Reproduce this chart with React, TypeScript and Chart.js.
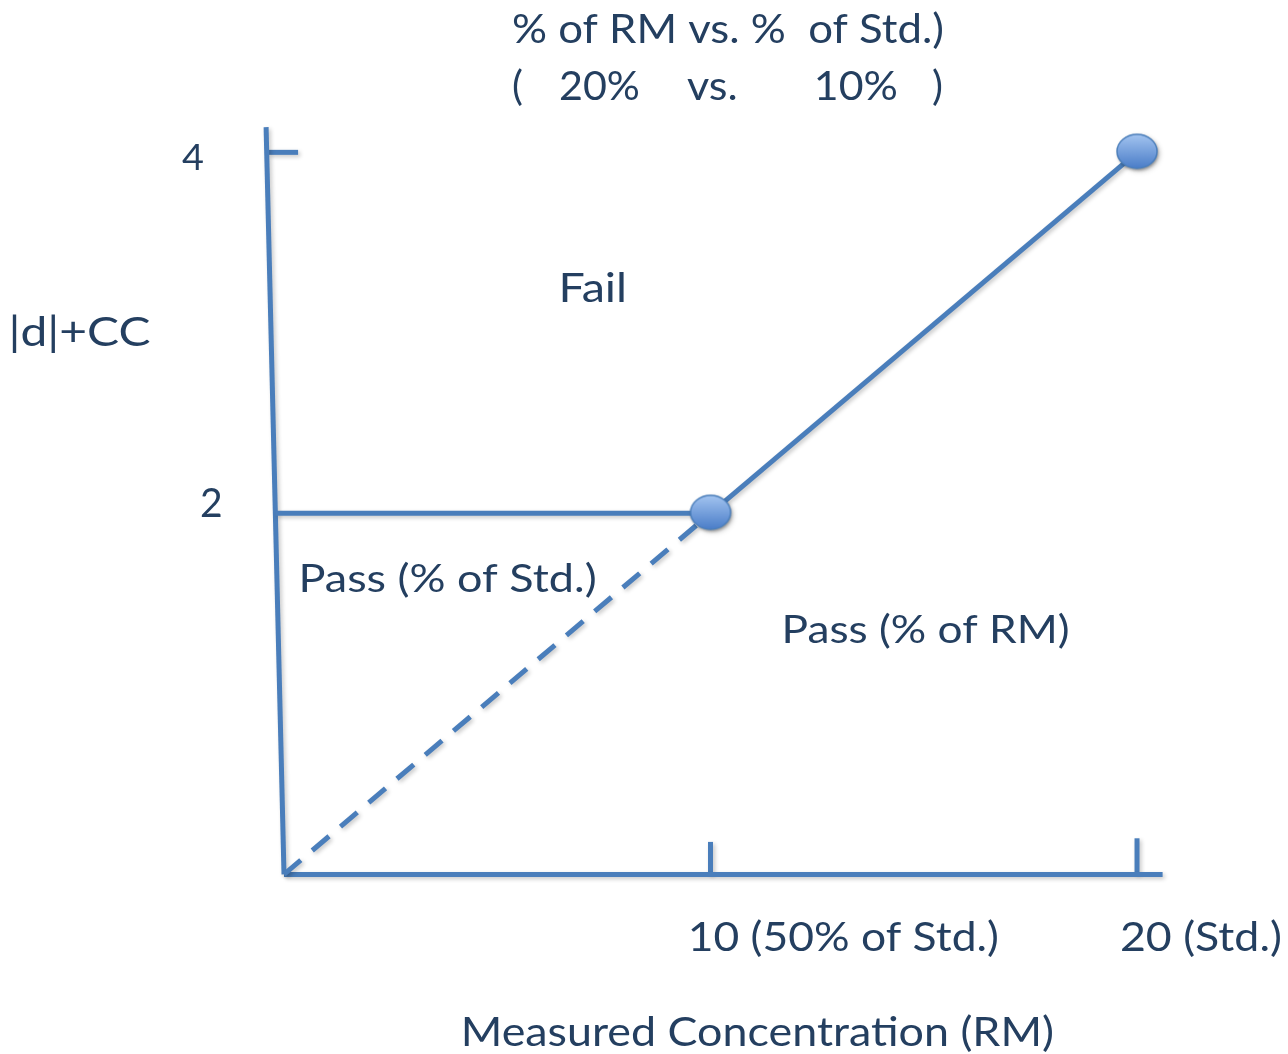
import React, { useEffect, useRef } from "react";
import { Chart, registerables } from "chart.js";

Chart.register(...registerables);

// ---- data (axis units: concentration on x, |d|+CC on y) ----
const passFailX = [10, 20];
const passFailY = [2, 4];
const dashedX = [0, 10];
const dashedY = [0, 2];
const stdLimitX = [-0.2, 10];
const stdLimitY = [2, 2];
const xAxisX = [0, 20.6];
const xAxisY = [0, 0];
const yAxisX = [-0.42, 0];
const yAxisY = [4.14, 0];
const topTickX = [-0.38, 0.33];
const topTickY = [4, 4];
const xTickValues = [10, 20];
const xTickTop = [0.18, 0.2];

const titleLine1 = "% of RM vs. %  of Std.)";
const titleLine2 = ["(", "20%", "vs.", "10%", ")"];
const yTickLabels = ["4", "2"];
const yAxisTitle = "|d|+CC";
const xTickLabels = ["10 (50% of Std.)", "20 (Std.)"];
const xAxisTitle = "Measured Concentration (RM)";
const regionLabels = ["Fail", "Pass (% of Std.)", "Pass (% of RM)"];

const LINE = "#4a7ebb";
const TEXT = "#243f60";
const FONT = "Lato, 'Open Sans', sans-serif";

function pts(xs: number[], ys: number[]) {
  return xs.map((x, i) => ({ x, y: ys[i] }));
}

function makeMarker(): HTMLCanvasElement {
  const c = document.createElement("canvas");
  c.width = 50;
  c.height = 44;
  const g = c.getContext("2d")!;
  g.shadowColor = "rgba(0,0,0,0.3)";
  g.shadowBlur = 3;
  g.shadowOffsetX = 1;
  g.shadowOffsetY = 2;
  const grad = g.createLinearGradient(0, 4, 0, 38);
  grad.addColorStop(0, "#a3c4f0");
  grad.addColorStop(1, "#4a7dc8");
  g.beginPath();
  g.ellipse(25, 21, 20, 17, 0, 0, Math.PI * 2);
  g.fillStyle = grad;
  g.fill();
  g.shadowColor = "transparent";
  g.lineWidth = 1.5;
  g.strokeStyle = "#4a7ebb";
  g.stroke();
  return c;
}

export default function App() {
  const ref = useRef<HTMLCanvasElement | null>(null);

  useEffect(() => {
    document.body.style.margin = "0";
    const canvas = ref.current!;
    const marker = makeMarker();

    const base = {
      borderColor: LINE,
      borderWidth: 5,
      pointRadius: 0,
      fill: false,
      tension: 0,
    };

    const tickDatasets = xTickValues.map((v, i) => ({
      ...base,
      data: [
        { x: v, y: 0 },
        { x: v, y: xTickTop[i] },
      ],
    }));

    const fitText = (
      ctx: CanvasRenderingContext2D,
      text: string,
      x1: number,
      x2: number | null,
      baseline: number,
      size: number
    ) => {
      ctx.save();
      ctx.font = `${size}px ${FONT}`;
      ctx.fillStyle = TEXT;
      ctx.textAlign = "left";
      ctx.textBaseline = "alphabetic";
      const m = ctx.measureText(text);
      const left = m.actualBoundingBoxLeft;
      const ink = m.actualBoundingBoxRight + left;
      let sx = 1;
      if (x2 !== null && ink > 0) sx = (x2 - x1) / ink;
      ctx.translate(x1, baseline);
      ctx.scale(sx, 1);
      ctx.fillText(text, left, 0);
      ctx.restore();
    };

    const textPlugin = {
      id: "texts",
      afterDraw(chart: any) {
        const ctx = chart.ctx as CanvasRenderingContext2D;
        fitText(ctx, titleLine1, 513, 943, 43, 41);
        fitText(ctx, titleLine2[0], 513, null, 100, 41);
        fitText(ctx, titleLine2[1], 560, 639, 100, 41);
        fitText(ctx, titleLine2[2], 687, 736, 100, 41);
        fitText(ctx, titleLine2[3], 817, 897, 100, 41);
        fitText(ctx, titleLine2[4], 933, null, 100, 41);
        fitText(ctx, yTickLabels[0], 182, 203, 170, 36);
        fitText(ctx, yTickLabels[1], 201, 221, 517, 41);
        fitText(ctx, yAxisTitle, 12, 150, 346, 41);
        fitText(ctx, regionLabels[0], 562, 624, 302, 41);
        fitText(ctx, regionLabels[1], 302, 595, 592, 39);
        fitText(ctx, regionLabels[2], 785, 1068, 643, 39);
        fitText(ctx, xTickLabels[0], 691, 997, 951, 40);
        fitText(ctx, xTickLabels[1], 1121, 1280, 951, 40);
        fitText(ctx, xAxisTitle, 464, 1053, 1046, 41);
      },
    };

    const shadowPlugin = {
      id: "lineShadow",
      beforeDatasetDraw(chart: any) {
        const ctx = chart.ctx as CanvasRenderingContext2D;
        ctx.save();
        ctx.shadowColor = "rgba(0,0,0,0.22)";
        ctx.shadowBlur = 4;
        ctx.shadowOffsetX = 2;
        ctx.shadowOffsetY = 2;
      },
      afterDatasetDraw(chart: any) {
        chart.ctx.restore();
      },
    };

    const chart = new Chart(canvas, {
      type: "line",
      data: {
        datasets: [
          {
            ...base,
            data: pts(passFailX, passFailY),
            pointRadius: 19,
            pointStyle: marker as any,
          },
          { ...base, data: pts(stdLimitX, stdLimitY) },
          {
            ...base,
            borderDash: [22, 15],
            data: pts(dashedX, dashedY),
          },
          { ...base, data: pts(yAxisX, yAxisY) },
          { ...base, data: pts(xAxisX, xAxisY) },
          { ...base, data: pts(topTickX, topTickY) },
          ...tickDatasets,
        ] as any,
      },
      options: {
        animation: false,
        responsive: false,
        devicePixelRatio: 1,
        layout: { padding: 0, autoPadding: false },
        plugins: {
          legend: { display: false },
          tooltip: { enabled: false },
          title: { display: false },
        },
        scales: {
          x: { type: "linear", display: false, min: -6.659, max: 23.54 },
          y: { type: "linear", display: false, min: -0.995, max: 4.844 },
        },
        elements: { line: { borderCapStyle: "butt" } },
      } as any,
      plugins: [shadowPlugin, textPlugin],
    });

    return () => chart.destroy();
  }, []);

  return (
    <div style={{ width: 1288, height: 1054, background: "#fff" }}>
      <canvas ref={ref} width={1288} height={1054} />
    </div>
  );
}
